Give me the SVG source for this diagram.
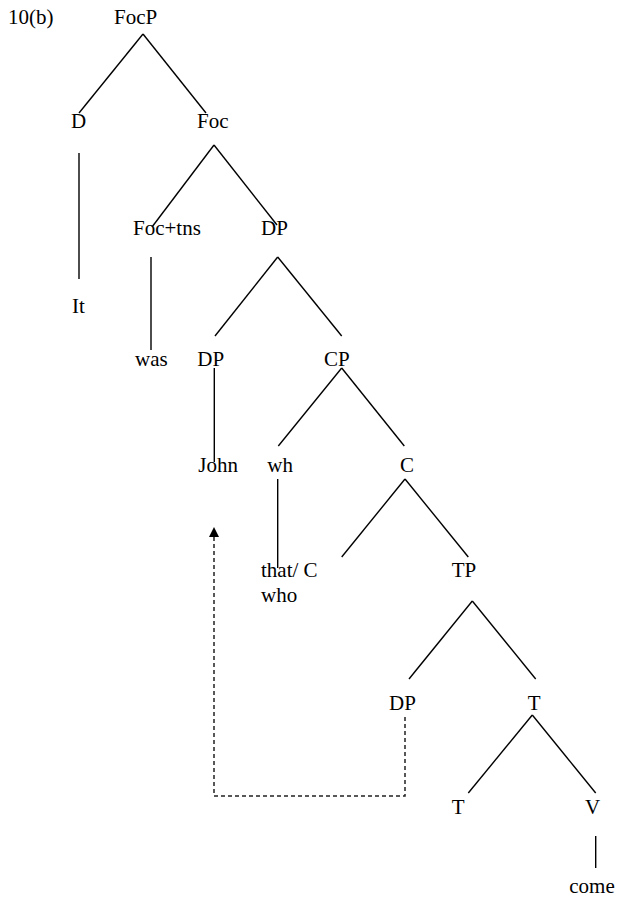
<svg xmlns="http://www.w3.org/2000/svg" width="618" height="899" viewBox="0 0 618 899">
<defs>
<style>
text{font-family:"Liberation Serif","Times New Roman",serif;font-size:21px;fill:#000}
.e{stroke:#000;stroke-width:1.4;fill:none}
.d{stroke:#222;stroke-width:1.5;fill:none;stroke-dasharray:4 3}
</style>
<marker id="ah" viewBox="0 0 10 10" refX="10" refY="5" markerWidth="10" markerHeight="10" markerUnits="userSpaceOnUse" orient="auto"><path d="M0,0 L10,5 L0,10 Z" fill="#000"/></marker>
</defs>
<rect width="618" height="899" fill="#fff"/>
<text x="8" y="24">10(b)</text>
<g id="connectors">
<line class="e" x1="143" y1="34" x2="79" y2="113"/>
<line class="e" x1="143" y1="34" x2="206" y2="113"/>
<line class="e" x1="79" y1="153" x2="79" y2="279"/>
<line class="e" x1="214" y1="145" x2="152" y2="227"/>
<line class="e" x1="214" y1="145" x2="277" y2="225"/>
<line class="e" x1="151" y1="257" x2="151" y2="350"/>
<line class="e" x1="277.7" y1="257" x2="215" y2="336"/>
<line class="e" x1="277.7" y1="257" x2="341.7" y2="336"/>
<line class="e" x1="214.3" y1="368" x2="214.3" y2="462"/>
<line class="e" x1="341.7" y1="368" x2="278.3" y2="446"/>
<line class="e" x1="341.7" y1="368" x2="404.3" y2="446"/>
<line class="e" x1="277.7" y1="479" x2="277.7" y2="568"/>
<line class="e" x1="405" y1="479" x2="341.7" y2="557"/>
<line class="e" x1="405" y1="479" x2="468.3" y2="557"/>
<line class="e" x1="472.3" y1="601" x2="409" y2="679"/>
<line class="e" x1="472.3" y1="601" x2="535.7" y2="679"/>
<line class="e" x1="532.3" y1="715" x2="468.3" y2="793"/>
<line class="e" x1="532.3" y1="715" x2="595.7" y2="793"/>
<line class="e" x1="595.7" y1="836" x2="595.7" y2="868"/>
<path class="d" d="M405,717 V796 H214 V527" marker-end="url(#ah)"/>
</g>
<g id="n-FocP"><text x="114" y="24">FocP</text></g>
<g id="n-D"><text x="71" y="128">D</text></g>
<g id="n-Foc"><text x="197" y="128">Foc</text></g>
<g id="n-It"><text x="72" y="313">It</text></g>
<g id="n-Foctns"><text x="133" y="235">Foc+tns</text></g>
<g id="n-DP1"><text x="261" y="235">DP</text></g>
<g id="n-was"><text x="135" y="366">was</text></g>
<g id="n-DP2"><text x="197.3" y="366">DP</text></g>
<g id="n-CP"><text x="324" y="366">CP</text></g>
<g id="n-John"><text x="198.3" y="471.7">John</text></g>
<g id="n-wh"><text x="267.3" y="471.7">wh</text></g>
<g id="n-C"><text x="400" y="471.7">C</text></g>
<g id="n-that"><text x="261" y="577.3">that/ C</text><text x="261" y="601.7">who</text></g>
<g id="n-TP"><text x="451.7" y="577.3">TP</text></g>
<g id="n-DP3"><text x="389" y="710">DP</text></g>
<g id="n-T1"><text x="527.7" y="710">T</text></g>
<g id="n-T2"><text x="451.7" y="814.3">T</text></g>
<g id="n-V"><text x="585" y="814.3">V</text></g>
<g id="n-come"><text x="569.3" y="893.3">come</text></g>
</svg>
